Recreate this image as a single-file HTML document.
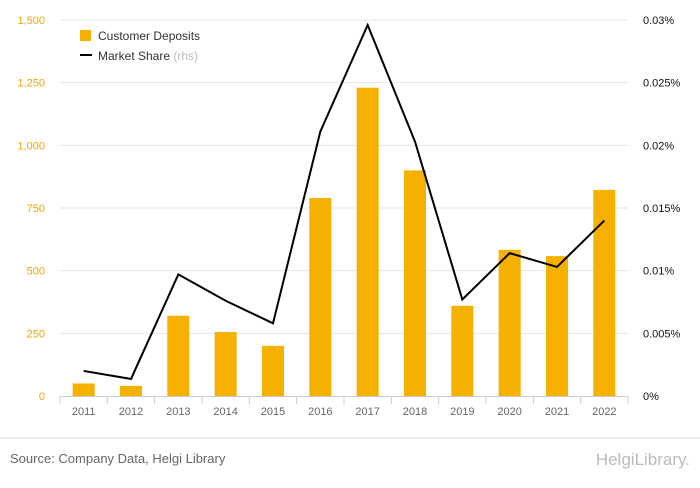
<!DOCTYPE html>
<html><head><meta charset="utf-8"><style>
body{margin:0;background:#fff;font-family:"Liberation Sans",sans-serif;}
svg text{font-family:"Liberation Sans",sans-serif;}
</style></head><body>
<svg id="chart" width="700" height="483" xmlns="http://www.w3.org/2000/svg">
<g id="grid"></g><g id="bars"></g><g id="line"></g><g id="axes"></g>
<g>
<rect x="80" y="30" width="11" height="11" fill="#f5b000"/>
<text x="98" y="40" font-size="12" fill="#333">Customer Deposits</text>
<line x1="80" y1="55" x2="92" y2="55" stroke="#000" stroke-width="2"/>
<text x="98" y="60" font-size="12" fill="#333">Market Share <tspan fill="#bbb">(rhs)</tspan></text>
</g>
<line x1="0" y1="438" x2="700" y2="438" stroke="#ddd"/>
<text x="10" y="463" font-size="13" fill="#666">Source: Company Data, Helgi Library</text>
<text x="690" y="465" font-size="17" fill="#bbb" text-anchor="end">HelgiLibrary.</text>
</svg>
<script>
const categories=["2011","2012","2013","2014","2015","2016","2017","2018","2019","2020","2021","2022"];
const deposits=[50,40,320,255,200,790,1230,900,360,583,558,822];
const marketShare=[0.0020,0.00136,0.0097,0.0076,0.0058,0.0211,0.0296,0.0203,0.0077,0.0114,0.0103,0.0140];
const leftTicks=[0,250,500,750,1000,1250,1500];
const leftTickLabels=["0","250","500","750","1,000","1,250","1,500"];
const rightTicks=[0,0.005,0.01,0.015,0.02,0.025,0.03];
const rightTickLabels=["0%","0.005%","0.01%","0.015%","0.02%","0.025%","0.03%"];
const NS="http://www.w3.org/2000/svg";
const x0=60,x1=628,yb=396,yt=20;
const step=(x1-x0)/categories.length;
const xc=i=>x0+step*(i+0.5);
const yL=v=>yb-(v/1500)*(yb-yt);
const yR=v=>yb-(v/0.03)*(yb-yt);
function mk(tag,attrs,parent,txt){const e=document.createElementNS(NS,tag);for(const k in attrs)e.setAttribute(k,attrs[k]);if(txt!==undefined)e.textContent=txt;document.getElementById(parent).appendChild(e);return e;}
leftTicks.forEach((t,i)=>{
 if(i>0){const g=mk("line",{x1:x0,x2:x1,y1:yL(t),y2:yL(t),stroke:"#e6e6e6"},"grid");
 
 }
 const l=mk("text",{x:45,y:yL(t)+4,"font-size":11,fill:"#f0a500","text-anchor":"end"},"axes",leftTickLabels[i]);
 
 
});
rightTicks.forEach((t,i)=>{
 const l=mk("text",{x:643,y:yR(t)+4,"font-size":11,fill:"#111"},"axes",rightTickLabels[i]);
 
 
});
const ax=mk("line",{x1:x0,x2:x1,y1:yb+0.5,y2:yb+0.5,stroke:"#ccc"},"axes");


categories.forEach((c,i)=>{
 const tk=mk("line",{x1:x0+step*i,x2:x0+step*i,y1:yb,y2:yb+8,stroke:"#ccc"},"axes");
 
 
 const b=mk("rect",{x:xc(i)-11,y:yL(deposits[i]),width:22,height:yb-yL(deposits[i]),fill:"#f5b000"},"bars");
 
 
 const l=mk("text",{x:xc(i),y:415,"font-size":11,fill:"#666","text-anchor":"middle"},"axes",c);
 
 
});
const last=mk("line",{x1:x1,x2:x1,y1:yb,y2:yb+8,stroke:"#ccc"},"axes");


const p=mk("polyline",{points:marketShare.map((v,i)=>xc(i)+","+yR(v)).join(" "),fill:"none",stroke:"#000","stroke-width":2},"line");


</script>
</body></html>
